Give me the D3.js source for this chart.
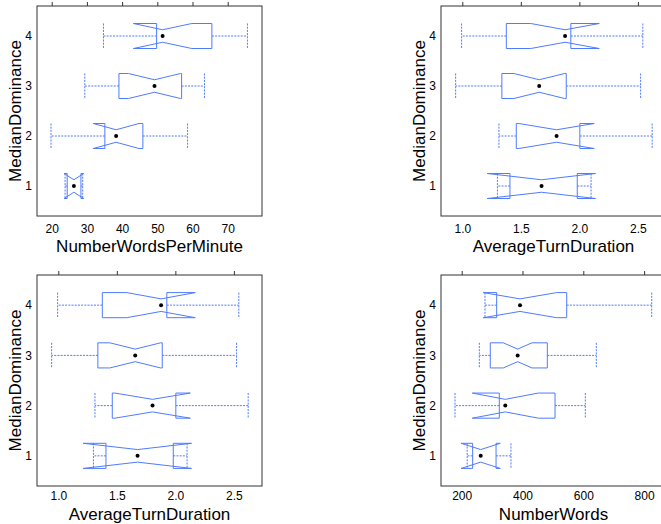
<!DOCTYPE html>
<html>
<head>
<meta charset="utf-8">
<script src="https://cdn.jsdelivr.net/npm/d3@7"></script>
<style>
  html, body { margin: 0; padding: 0; background: #fff; }
  svg { display: block; font-family: "Liberation Sans", Arial, Helvetica, sans-serif; }
</style>
</head>
<body>
<svg id="chart" width="661" height="524"></svg>
<script>
// ---- data ----
const levels = [1, 2, 3, 4];
const yTickLabels = ["1", "2", "3", "4"];

// NumberWordsPerMinute by MedianDominance
const wpmWhiskerLo = [23.8, 19.8, 29.4, 34.7];
const wpmQ1        = [24.4, 35.1, 39.1, 49.8];
const wpmMedian    = [26.3, 38.3, 49.2, 51.5];
const wpmQ3        = [28.3, 45.9, 56.9, 65.5];
const wpmWhiskerHi = [28.8, 58.6, 63.4, 75.6];
const wpmNotchLo   = [23.5, 31.8, 41.8, 43.2];
const wpmNotchHi   = [29.1, 44.8, 56.6, 59.8];
const wpmTicks     = [20, 30, 40, 50, 60, 70];

// AverageTurnDuration by MedianDominance
const atdWhiskerLo = [1.300, 1.313, 0.943, 0.994];
const atdQ1        = [1.407, 1.461, 1.338, 1.376];
const atdMedian    = [1.677, 1.805, 1.657, 1.878];
const atdQ3        = [1.982, 2.004, 1.888, 1.927];
const atdWhiskerHi = [2.100, 2.622, 2.523, 2.542];
const atdNotchLo   = [1.213, 1.483, 1.440, 1.585];
const atdNotchHi   = [2.138, 2.127, 1.874, 2.170];
const atdTicks     = [1.0, 1.5, 2.0, 2.5];

// NumberWords by MedianDominance
const nwWhiskerLo = [218, 178, 258, 276.6];
const nwQ1        = [236, 323.7, 294, 315];
const nwMedian    = [262.5, 343.4, 384, 391.8];
const nwQ3        = [313, 507, 481.6, 545.4];
const nwWhiskerHi = [362, 606.6, 642.8, 825];
const nwNotchLo   = [198, 234.9, 336.8, 271];
const nwNotchHi   = [327, 452, 431, 512.5];
const nwTicks     = [200, 400, 600, 800];

// ---- styles ----
const boxColor = "#4f7bff";
const frameColor = "#333";

const svg = d3.select("#chart");

function buildRows(wLo, q1, med, q3, wHi, nLo, nHi) {
  return levels.map((lv, i) => ({
    level: lv, wLo: wLo[i], q1: q1[i], med: med[i], q3: q3[i], wHi: wHi[i], nLo: nLo[i], nHi: nHi[i]
  }));
}

function drawPanel(opt) {
  const { left, right, top, bottom, domain, ticks, fmt, title, rows, labelPad, titleOff } = opt;
  const g = svg.append("g");
  const x = d3.scaleLinear().domain(domain).range([left, right]);
  const y = d3.scaleLinear().domain([0.4, 4.6]).range([bottom, top]);
  const boxH = Math.abs(y(0.5) - y(0)) * 2 * 0.5; // box.ratio = 1 -> half a level
  const half = boxH / 2;
  const inset = boxH / 4;

  // bottom axis labels
  const xAxis = d3.axisBottom(x).tickValues(ticks).tickFormat(fmt).tickSize(0).tickPadding(labelPad);
  const ax = g.append("g").attr("transform", `translate(0,${bottom})`).call(xAxis);
  ax.select(".domain").remove();
  ax.selectAll("text").attr("font-size", 12).attr("fill", "#000")
    .attr("font-family", "Liberation Sans, Arial, sans-serif");

  // top ticks (no labels)
  const topAxis = d3.axisTop(x).tickValues(ticks).tickFormat("").tickSize(4);
  const at = g.append("g").attr("transform", `translate(0,${top})`).call(topAxis);
  at.select(".domain").remove();
  at.selectAll("line").attr("stroke", frameColor);

  // left labels
  const yAxis = d3.axisLeft(y).tickValues(levels).tickFormat((d, i) => yTickLabels[i]).tickSize(0).tickPadding(5);
  const ay = g.append("g").attr("transform", `translate(${left},0)`).call(yAxis);
  ay.select(".domain").remove();
  ay.selectAll("text").attr("font-size", 12).attr("fill", "#000")
    .attr("font-family", "Liberation Sans, Arial, sans-serif");

  // frame
  g.append("rect").attr("x", left).attr("y", top)
    .attr("width", right - left).attr("height", bottom - top)
    .attr("fill", "none").attr("stroke", frameColor).attr("stroke-width", 1);

  // titles
  g.append("text").attr("x", (left + right) / 2).attr("y", bottom + titleOff)
    .attr("text-anchor", "middle").attr("font-size", 17).attr("fill", "#000").text(title);
  g.append("text").attr("transform", `translate(${left - 16},${(top + bottom) / 2}) rotate(-90)`)
    .attr("text-anchor", "middle").attr("font-size", 17).attr("fill", "#000").text("MedianDominance");

  const boxes = g.append("g").selectAll("g").data(rows).join("g");

  // whiskers (dashed)
  boxes.each(function (d) {
    const s = d3.select(this);
    const cy = y(d.level);
    const dash = "2,1.2";
    [[d.q1, d.wLo], [d.q3, d.wHi]].forEach(([a, b]) => {
      s.append("line").attr("x1", x(a)).attr("x2", x(b)).attr("y1", cy).attr("y2", cy)
        .attr("stroke", boxColor).attr("stroke-dasharray", dash).attr("stroke-width", 1);
      s.append("line").attr("x1", x(b)).attr("x2", x(b)).attr("y1", cy - half).attr("y2", cy + half)
        .attr("stroke", boxColor).attr("stroke-dasharray", dash).attr("stroke-width", 1);
    });
  });

  // notched box outline
  boxes.append("path")
    .attr("d", d => {
      const cy = y(d.level), t = cy - half, b = cy + half;
      const pts = [
        [x(d.q1), t], [x(d.nLo), t], [x(d.med), t + inset], [x(d.nHi), t], [x(d.q3), t],
        [x(d.q3), b], [x(d.nHi), b], [x(d.med), b - inset], [x(d.nLo), b], [x(d.q1), b]
      ];
      return d3.line()(pts) + "Z";
    })
    .attr("fill", "none").attr("stroke", boxColor).attr("stroke-width", 1);

  // median dots
  boxes.append("circle").attr("cx", d => x(d.med)).attr("cy", d => y(d.level))
    .attr("r", 2).attr("fill", "#000");
}

const fmtInt = d3.format("d");
const fmt1 = d3.format(".1f");

drawPanel({ left: 37, right: 262, top: 6, bottom: 216, domain: [15.82, 79.74], ticks: wpmTicks, fmt: fmtInt,
  labelPad: 8, titleOff: 36,
  title: "NumberWordsPerMinute", rows: buildRows(wpmWhiskerLo, wpmQ1, wpmMedian, wpmQ3, wpmWhiskerHi, wpmNotchLo, wpmNotchHi) });
drawPanel({ left: 441, right: 666, top: 6, bottom: 216, domain: [0.818, 2.74], ticks: atdTicks, fmt: fmt1,
  labelPad: 8, titleOff: 36,
  title: "AverageTurnDuration", rows: buildRows(atdWhiskerLo, atdQ1, atdMedian, atdQ3, atdWhiskerHi, atdNotchLo, atdNotchHi) });
drawPanel({ left: 37, right: 262, top: 275, bottom: 486, domain: [0.818, 2.74], ticks: atdTicks, fmt: fmt1,
  labelPad: 5, titleOff: 34,
  title: "AverageTurnDuration", rows: buildRows(atdWhiskerLo, atdQ1, atdMedian, atdQ3, atdWhiskerHi, atdNotchLo, atdNotchHi) });
drawPanel({ left: 441, right: 666, top: 275, bottom: 486, domain: [131.9, 872], ticks: nwTicks, fmt: fmtInt,
  labelPad: 5, titleOff: 34,
  title: "NumberWords", rows: buildRows(nwWhiskerLo, nwQ1, nwMedian, nwQ3, nwWhiskerHi, nwNotchLo, nwNotchHi) });
</script>
</body>
</html>
